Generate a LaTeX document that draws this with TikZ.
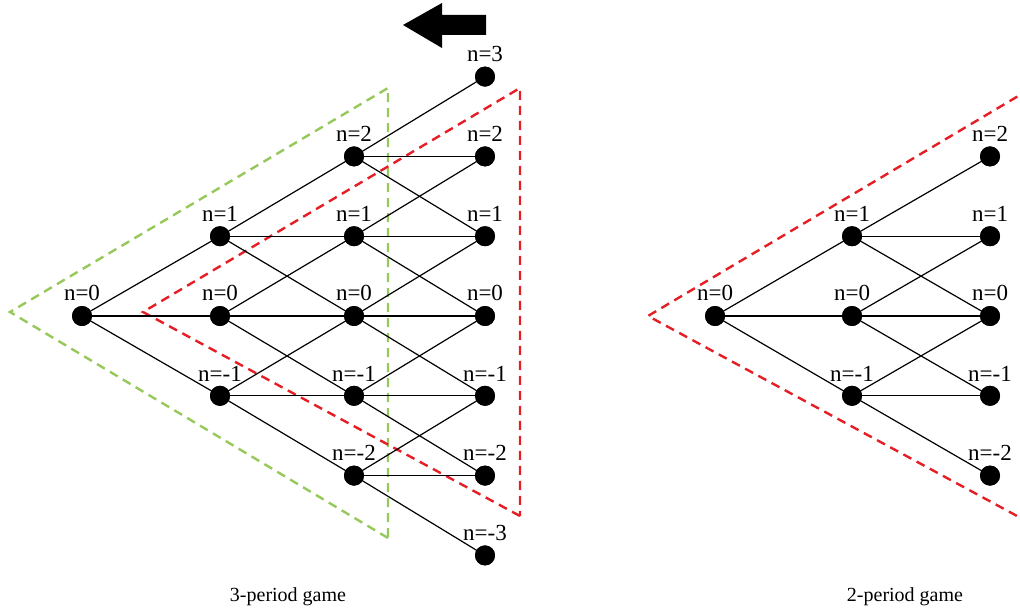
\documentclass[tikz,border=0pt]{standalone}
\usepackage{fontspec}
\setmainfont{Liberation Serif}
\definecolor{dgreen}{RGB}{150,200,90}
\definecolor{dred}{RGB}{228,30,36}
\begin{document}
\begin{tikzpicture}[x=0.5pt,y=-0.5pt,
  dot/.style={circle,fill=black,inner sep=0pt,minimum size=10pt},
  lbl/.style={font=\fontsize{11.5}{13}\selectfont,inner sep=0pt},
  edge/.style={line width=0.6pt},
  tri/.style={line width=1.2pt,dash pattern=on 4.5pt off 3pt},
  caption/.style={font=\fontsize{10}{12}\selectfont,inner sep=0pt}]
\useasboundingbox (0,0) rectangle (1020,615);
\begin{scope}
\clip (0,0) rectangle (1020,615);
% dashed triangles
\draw[tri,dgreen] (388,538) -- (10,312) -- (388,88) -- cycle;
\draw[tri,dred] (520,516) -- (143,312) -- (520,88) -- cycle;
\draw[tri,dred] (1030,523) -- (648,316) -- (1030,89);
\end{scope}
% left tree nodes
\node[dot,label={[lbl,label distance=2pt]above:n=0}] (L0i3) at (82,316) {};
\foreach \c/\x/\lo/\hi in {1/220/2/4, 2/354/1/5, 3/485/0/6}{
  \foreach \i in {\lo,...,\hi}{
    \pgfmathtruncatemacro{\n}{\i-3}
    \node[dot,label={[lbl,label distance=2pt]above:n=\n}] (L\c i\i) at (\x,{316-79.8*(\i-3)}) {};
  }
}
% right tree nodes
\node[dot,label={[lbl,label distance=2pt]above:n=0}] (R0i3) at (715,316) {};
\foreach \c/\x/\lo/\hi in {1/852/2/4, 2/990/1/5}{
  \foreach \i in {\lo,...,\hi}{
    \pgfmathtruncatemacro{\n}{\i-3}
    \node[dot,label={[lbl,label distance=2pt]above:n=\n}] (R\c i\i) at (\x,{316-79.8*(\i-3)}) {};
  }
}
% left edges
\foreach \c/\lo/\hi in {0/3/3, 1/2/4, 2/1/5}{
  \pgfmathtruncatemacro{\d}{\c+1}
  \foreach \i in {\lo,...,\hi}{
    \pgfmathtruncatemacro{\u}{\i+1}
    \pgfmathtruncatemacro{\w}{\i-1}
    \draw[edge] (L\c i\i.center) -- (L\d i\u.center);
    \draw[edge] (L\c i\i.center) -- (L\d i\i.center);
    \draw[edge] (L\c i\i.center) -- (L\d i\w.center);
  }
}
% right edges
\foreach \c/\lo/\hi in {0/3/3, 1/2/4}{
  \pgfmathtruncatemacro{\d}{\c+1}
  \foreach \i in {\lo,...,\hi}{
    \pgfmathtruncatemacro{\u}{\i+1}
    \pgfmathtruncatemacro{\w}{\i-1}
    \draw[edge] (R\c i\i.center) -- (R\d i\u.center);
    \draw[edge] (R\c i\i.center) -- (R\d i\i.center);
    \draw[edge] (R\c i\i.center) -- (R\d i\w.center);
  }
}
% redraw dots on top
\foreach \nm in {L0i3,L1i2,L1i3,L1i4,L2i1,L2i2,L2i3,L2i4,L2i5,L3i0,L3i1,L3i2,L3i3,L3i4,L3i5,L3i6,R0i3,R1i2,R1i3,R1i4,R2i1,R2i2,R2i3,R2i4,R2i5}{
  \fill (\nm.center) circle (5pt);
}
% big arrow
\fill (403,25) -- (442,3) -- (442,15) -- (486,15) -- (486,35) -- (442,35) -- (442,48) -- cycle;
% captions
\node[caption] (cap3) at (288,597) {3-period game};
\node[caption] (cap2) at (905,597) {2-period game};
\end{tikzpicture}
\end{document}
